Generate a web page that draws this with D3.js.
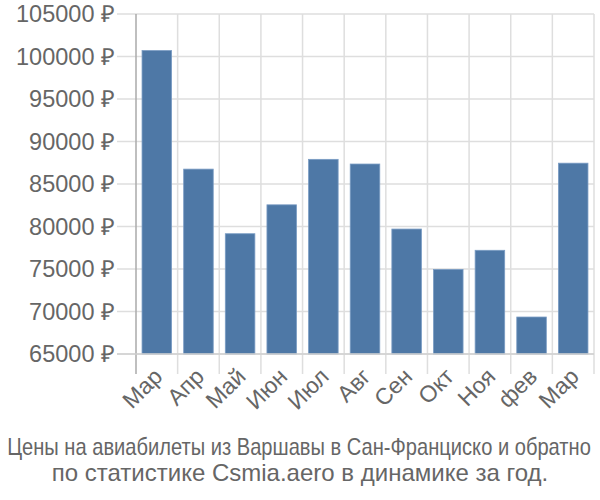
<!DOCTYPE html>
<html><head><meta charset="utf-8">
<script src="https://cdn.jsdelivr.net/npm/d3@7"></script>
<style>body{margin:0;background:#fff}svg{display:block}</style>
</head><body>
<svg id="c" width="600" height="500"></svg>
<script>
const categories = ["Мар","Апр","Май","Июн","Июл","Авг","Сен","Окт","Ноя","фев","Мар"];
const prices = [100700, 86750, 79150, 82550, 87900, 87350, 79700, 74950, 77200, 69350, 87450];
const yTicks = [65000,70000,75000,80000,85000,90000,95000,100000,105000];
const titleLines = ["Цены на авиабилеты из Варшавы в Сан-Франциско и обратно","по статистике Csmia.aero в динамике за год."];

const svg = d3.select("#c");
const L = 136, R = 594, T = 14, B = 354;
const x = d3.scaleBand().domain(d3.range(categories.length)).range([L, R]).paddingInner(0.29).paddingOuter(0.145);
const xb = d3.scaleBand().domain(d3.range(categories.length)).range([L, R]);
const y = d3.scaleLinear().domain([65000,105000]).range([B, T]);

// horizontal grid + tick extensions
svg.append("g").selectAll("line").data(yTicks).join("line")
  .attr("x1", 117).attr("x2", R).attr("y1", d=>y(d)).attr("y2", d=>y(d))
  .attr("stroke", "#dedede").attr("stroke-width", 1.5);
// vertical grid
const bounds = d3.range(categories.length+1).map(i => L + i*xb.step());
svg.append("g").selectAll("line").data(bounds.slice(1)).join("line")
  .attr("x1", d=>d).attr("x2", d=>d).attr("y1", T).attr("y2", 374)
  .attr("stroke", "#dedede").attr("stroke-width", 1.5);
// y axis line
svg.append("line").attr("x1", L).attr("x2", L).attr("y1", T).attr("y2", 374)
  .attr("stroke", "#aaa").attr("stroke-width", 1.5);

// bars
svg.append("g").selectAll("rect").data(prices).join("rect")
  .attr("x", (d,i)=>x(i)).attr("width", x.bandwidth())
  .attr("y", d=>y(d)).attr("height", d=>B - y(d))
  .attr("fill", "#4e78a6").attr("stroke", "#7a9cc4").attr("stroke-width", 0.8);

// bottom axis line
svg.append("line").attr("x1", 117).attr("x2", R).attr("y1", B).attr("y2", B)
  .attr("stroke", "#d0d0d0").attr("stroke-width", 1.5);

// y labels
svg.append("g").selectAll("text").data(yTicks).join("text")
  .attr("x", 115).attr("y", d=>y(d)).attr("dy", "0.35em")
  .attr("text-anchor", "end").attr("fill", "#666")
  .attr("font-family", "Liberation Sans, Arial, sans-serif").attr("font-size", 23.5)
  .text(d => d + " ₽");

// x labels
svg.append("g").selectAll("text").data(categories).join("text")
  .attr("transform", (d,i)=>`translate(${xb(i)+xb.bandwidth()/2+7},${378}) rotate(-45)`)
  .attr("text-anchor", "end").attr("fill", "#666")
  .attr("font-family", "Liberation Sans, Arial, sans-serif").attr("font-size", 23)
  .text(d=>d);

// title
const tt = svg.append("g").attr("fill", "#666")
  .attr("font-family", "Liberation Sans, Arial, sans-serif")
  .attr("text-anchor", "middle");
const t1 = tt.append("text").attr("x", 0).attr("y", 0).attr("font-size", 23).text(titleLines[0]);
const w1 = t1.node().getComputedTextLength();
const s1 = Math.min(1, 584 / w1);
t1.attr("transform", `translate(299,455) scale(${s1},1)`);
tt.append("text").attr("x", 300).attr("y", 481).attr("font-size", 24).text(titleLines[1]);
</script>
</body></html>
